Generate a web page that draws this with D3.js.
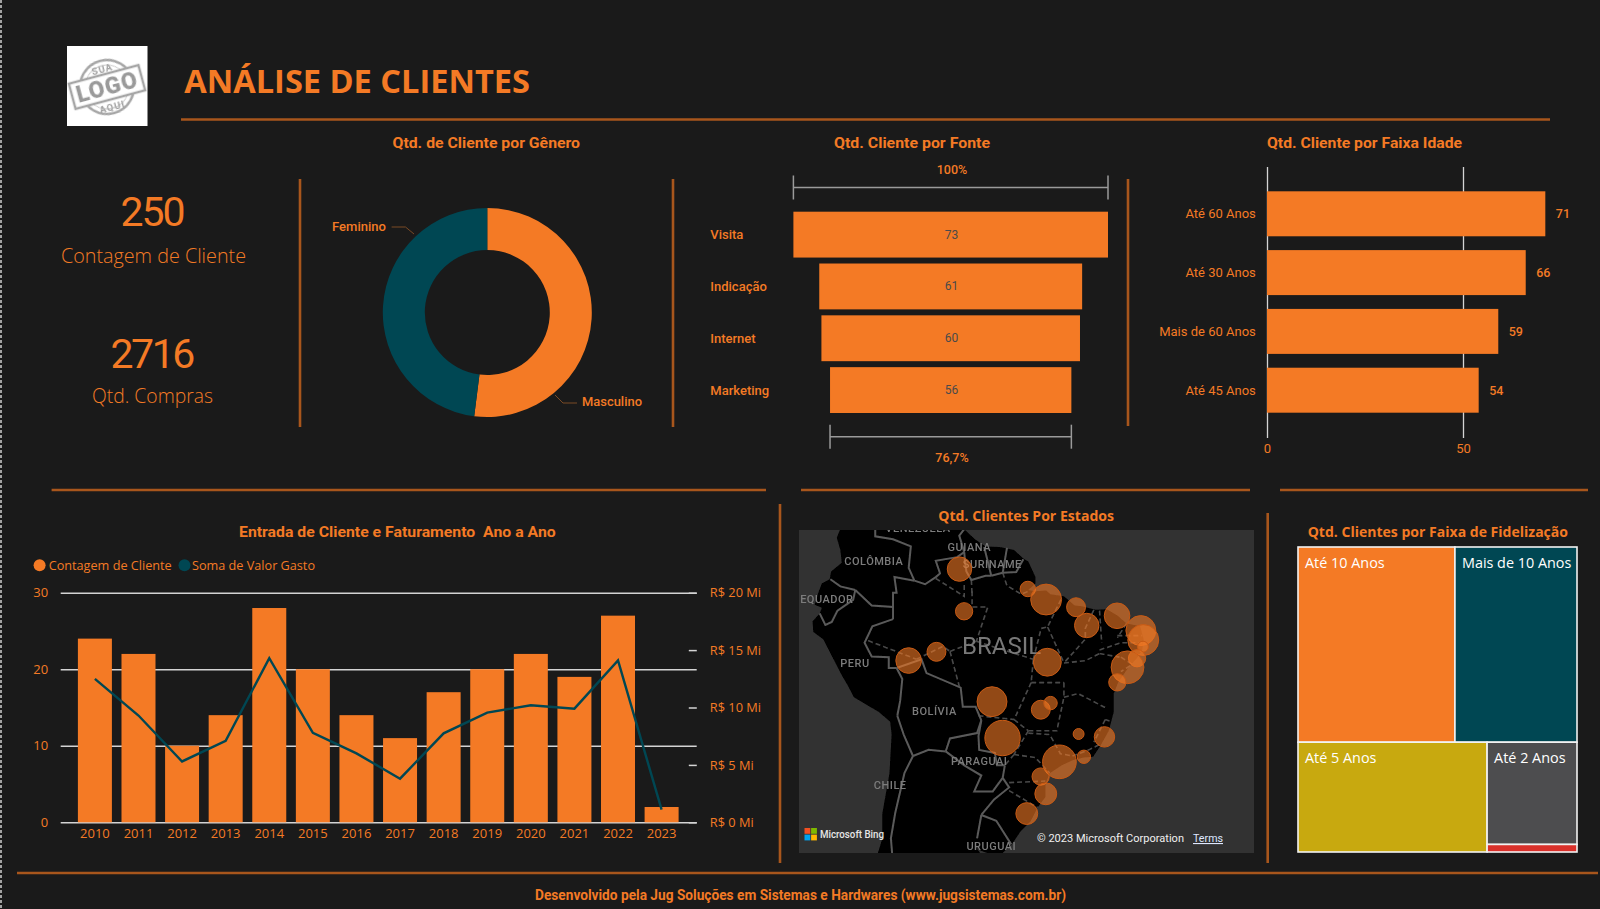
<!DOCTYPE html>
<html>
<head>
<meta charset="utf-8">
<script src="https://cdn.jsdelivr.net/npm/d3@7"></script>
<style>
  html, body { margin: 0; padding: 0; background: #1a1a1a; overflow: hidden; }
  svg { display: block; }
  .din { font-family: Roboto, sans-serif; }
  .seg { font-family: "Open Sans", sans-serif; }
</style>
</head>
<body>
<svg id="page" width="1600" height="909"></svg>
<script>
// ---- data ----
var genderNames = ["Masculino", "Feminino"];
var genderValues = [130, 120];

var sourceNames = ["Visita", "Indicação", "Internet", "Marketing"];
var sourceValues = [73, 61, 60, 56];

var ageNames = ["Até 60 Anos", "Até 30 Anos", "Mais de 60 Anos", "Até 45 Anos"];
var ageValues = [71, 66, 59, 54];

var years = ["2010", "2011", "2012", "2013", "2014", "2015", "2016", "2017", "2018", "2019", "2020", "2021", "2022", "2023"];
var customerCounts = [24, 22, 10, 14, 28, 20, 14, 11, 17, 20, 22, 19, 27, 2];
var revenueMi = [12.5, 9.3, 5.3, 7.1, 14.3, 7.8, 6.0, 3.8, 7.75, 9.55, 10.2, 9.9, 14.1, 1.1];
var leftTicks = [0, 10, 20, 30];
var rightTicks = [0, 5, 10, 15, 20];

var loyaltyNames = ["Até 10 Anos", "Mais de 10 Anos", "Até 5 Anos", "Até 2 Anos", "Até 1 Ano"];
var loyaltyValues = [90, 70, 61, 27, 2];
var loyaltyColors = ["#f47a25", "#004753", "#c8a90f", "#4d4d4f", "#d9302a"];

// state capitals: [lon, lat, customers]
var stateBubbles = [
  [-60.67, 2.82, 10], [-60.02, -3.1, 5], [-67.81, -9.97, 11], [-63.9, -8.76, 6],
  [-51.07, 0.03, 4], [-48.5, -1.45, 16], [-44.3, -2.53, 6], [-42.8, -5.09, 10],
  [-38.54, -3.73, 11], [-35.2, -5.8, 15], [-34.86, -7.12, 16], [-34.9, -8.05, 2],
  [-35.73, -9.65, 5], [-37.07, -10.9, 18], [-38.5, -12.97, 5], [-48.33, -10.2, 13],
  [-56.1, -15.6, 15], [-49.25, -16.68, 6], [-47.88, -15.79, 3], [-54.62, -20.45, 21],
  [-43.94, -19.92, 2], [-40.31, -20.3, 7], [-43.2, -22.9, 3], [-46.63, -23.55, 19],
  [-49.27, -25.43, 5], [-48.55, -27.6, 8], [-51.22, -30.03, 8]
];

var mapLabels = [
  ["VENEZUELA", -66.5, 8.5], ["GUIANA", -59.3, 5.97], ["SURINAME", -56.06, 3.54],
  ["COLÔMBIA", -72.7, 3.96], ["EQUADOR", -79.3, -1.37], ["PERU", -75.35, -10.35],
  ["BOLÍVIA", -64.2, -16.8], ["PARAGUAI", -57.9, -23.4], ["CHILE", -70.4, -26.5],
  ["URUGUAI", -56.2, -33.9]
];

var coastline = [
  [-77.9, 7.2], [-77.3, 8.7], [-77, 9.5], [-75.5, 10.6], [-74.2, 11.3], [-71.7, 12.4], [-71.3, 11], [-70, 12],
  [-68, 10.6], [-64, 10.5], [-62, 10.7], [-61, 9], [-60, 8.4], [-58.5, 7], [-57, 6], [-55, 5.9], [-53, 5.5],
  [-51.7, 4.3], [-51, 3.9], [-50, 1.7], [-50, 0.8], [-51, -0.1], [-50, -0.3], [-48.5, -0.2], [-47.9, -0.7],
  [-46, -1], [-44.5, -2.3], [-43.5, -2.4], [-41.5, -2.9], [-40, -2.8], [-38.5, -3.7], [-37.2, -4.8], [-35.3, -5.2],
  [-34.8, -7], [-35, -8.5], [-35.8, -9.7], [-37, -11], [-38.4, -13], [-39, -14.5], [-39, -17], [-39.7, -19.5],
  [-40.9, -21.5], [-41.9, -22.9], [-43.2, -23], [-44.7, -23.3], [-46.3, -24], [-48, -25], [-48.6, -26.3],
  [-48.6, -28], [-49.7, -29.3], [-50.7, -31], [-52.1, -32.2], [-53.4, -33.8], [-54.9, -34.9], [-56.2, -34.9],
  [-57.8, -34.4], [-58.4, -34], [-57.2, -35.3], [-56.7, -36.5], [-58, -38.3], [-62, -39], [-65, -41], [-65, -45],
  [-68, -50], [-68.5, -55], [-72, -54], [-75, -50], [-73.5, -40], [-73, -37], [-71.5, -33], [-71.5, -30],
  [-70.5, -25], [-70.2, -20], [-70.4, -18.3], [-72, -17], [-75.5, -15], [-76.3, -13.5], [-77.2, -12], [-78.5, -9.5],
  [-79.8, -7], [-81.2, -6], [-81.3, -4.5], [-80.3, -3.4], [-80, -2.6], [-81, -2.2], [-80.5, -0.5], [-80, 0.8],
  [-78.9, 1.4], [-78.7, 2.5], [-77.2, 3.7], [-77.4, 5.5]
];

var countryBorders = [
  [[-78.8, 1.4], [-77.4, 0.4], [-75.3, -0.1]],
  [[-75.3, -0.1], [-75.6, -1.5], [-77.8, -3], [-78.6, -4.6], [-79.5, -5], [-80.3, -3.4]],
  [[-75.3, -0.1], [-73, -2.3], [-70, -2.5], [-70, -4.2]],
  [[-71.5, 12], [-72.5, 10], [-72.5, 7.4], [-70, 7], [-67.5, 6], [-67.8, 3], [-67, 1.2]],
  [[-67, 1.2], [-69.8, 1.7], [-69.5, -0.5], [-70, -0.5], [-70, -2.5]],
  [[-67, 1.2], [-65.5, 0.7], [-64, 1.7], [-63.4, 2.2], [-64, 4], [-61, 4.5], [-60, 5.2]],
  [[-60, 5.2], [-60.7, 7.5], [-60, 8.4]],
  [[-60, 5.2], [-59.9, 4], [-59.7, 2.5], [-59, 1.3], [-57, 1.9], [-56.2, 1.9]],
  [[-56.2, 1.9], [-57.2, 5.9]],
  [[-56.2, 1.9], [-54.6, 2.3]],
  [[-54.6, 2.3], [-54, 5.8]],
  [[-54.6, 2.3], [-52.7, 2.4], [-51.7, 4.2]],
  [[-70, -4.2], [-72.9, -5.2], [-74, -7.5], [-73, -9.4], [-70.6, -9.5], [-70.6, -11], [-69.5, -11]],
  [[-69.5, -11], [-68.7, -12.5], [-69, -15.5], [-69.4, -17.5]],
  [[-69.5, -11], [-66, -9.8], [-65.3, -11.7], [-60.5, -13.7], [-60.2, -16.3], [-58.4, -16.3], [-57.6, -18.1]],
  [[-69.4, -17.5], [-68.5, -20], [-67.2, -22.8]],
  [[-67.2, -22.8], [-68.4, -25], [-69.7, -30], [-70.3, -33], [-70, -36], [-71.5, -40]],
  [[-67.2, -22.8], [-65, -22], [-62.6, -22.2]],
  [[-62.6, -22.2], [-62, -20.5], [-58.2, -19.8], [-57.6, -18.1]],
  [[-57.6, -18.1], [-58, -20.2], [-57.9, -22], [-55.7, -22.4], [-55.4, -24], [-54.3, -24]],
  [[-62.6, -22.2], [-60, -24], [-57.6, -25.3], [-58.6, -27.3], [-56, -27.3], [-54.6, -25.6], [-54.3, -24]],
  [[-54.6, -25.6], [-53.7, -26.8], [-55.8, -28.3], [-57.6, -30.2]],
  [[-57.6, -30.2], [-55.5, -30.9], [-53.4, -33.7]],
  [[-57.6, -30.2], [-58.2, -33]]
];

var stateBorders = [
  [[-58.9, -0.3], [-58.9, -2.5], [-56.7, -2.5], [-58.3, -7.3]],
  [[-64, 1.5], [-60, -1], [-60, 1]],
  [[-59, 1.3], [-58.9, -0.8]],
  [[-54.6, 2.3], [-54, 0.5], [-52, -0.7], [-51, -0.3]],
  [[-58.3, -7.3], [-50.3, -9.8]],
  [[-50.3, -9.8], [-49.2, -5.5], [-48.3, -5.3], [-46.3, -1.2]],
  [[-48.3, -5.3], [-47.5, -7], [-46, -10.3]],
  [[-41.8, -2.9], [-43, -5.5], [-43, -7], [-46, -10.3]],
  [[-50.6, -13], [-46, -13]],
  [[-50.3, -9.8], [-50.6, -13]],
  [[-50.6, -13], [-53, -18]],
  [[-73.5, -7.2], [-66.7, -9.8]],
  [[-66.7, -9.8], [-63, -8], [-62, -8.7]],
  [[-62, -8.7], [-60.7, -13.5]],
  [[-62, -8.7], [-58.3, -7.3]],
  [[-58, -17.5], [-53, -18]],
  [[-53, -18], [-51, -19.5]],
  [[-51, -19.5], [-53, -22.6]],
  [[-53, -22.6], [-54.3, -24]],
  [[-51, -19.8], [-48, -20], [-46.5, -22.5], [-44.8, -22.8]],
  [[-51, -19.5], [-47, -19.5], [-46, -15]],
  [[-46, -15], [-44, -14.5], [-40, -16.5]],
  [[-46, -13], [-46, -15]],
  [[-40.2, -18], [-41.8, -21]],
  [[-39.6, -18.2], [-40.2, -18]],
  [[-44.8, -22.8], [-42.5, -22], [-41, -21.3]],
  [[-53, -22.6], [-50, -23], [-48, -25]],
  [[-53.7, -26.2], [-48.6, -26]],
  [[-53.7, -27.2], [-49.7, -29.3]],
  [[-41, -3], [-40.7, -7.5]],
  [[-41, -8.5], [-38, -7.5], [-35, -7.5]],
  [[-41, -9], [-38.2, -9.5]],
  [[-37.2, -4.8], [-38.5, -6.8]],
  [[-38.5, -6.5], [-35, -6.5]],
  [[-46, -10.3], [-43, -10], [-41, -9]],
  [[-38, -9.5], [-36.4, -10.5], [-38, -11.5]]
];

// ---- shared styles ----
var orange = "#f47a25";
var teal = "#004753";
var ruleColor = "#a8561c";
var gridColor = "#d4d4d4";

var svg = d3.select("#page");
svg.append("rect").attr("width", 1600).attr("height", 909).attr("fill", "#1a1a1a");
svg.append("filter").attr("id", "soft").append("feGaussianBlur").attr("stdDeviation", 0.5);

// text helper, width is the measured width on the reference
function label(parent, str, x, y, cls, size, opts) {
  opts = opts || {};
  var t = parent.append("text")
    .attr("class", cls)
    .attr("x", x).attr("y", y)
    .attr("font-size", size)
    .attr("font-weight", opts.weight || 400)
    .attr("fill", opts.fill || orange)
    .attr("text-anchor", opts.anchor || "start")
    .text(str);
  if (opts.width) t.attr("textLength", opts.width).attr("lengthAdjust", opts.adjust || "spacingAndGlyphs");
  if (opts.spacing) t.attr("letter-spacing", opts.spacing);
  return t;
}

function rule(x1, y1, x2, y2) {
  svg.append("line").attr("x1", x1).attr("y1", y1).attr("x2", x2).attr("y2", y2)
    .attr("stroke", ruleColor).attr("stroke-width", 2.6);
}

// selection edge on the far left of the screenshot
svg.append("line").attr("x1", 1).attr("y1", 0).attr("x2", 1).attr("y2", 909)
  .attr("stroke", "#cfcfcf").attr("stroke-width", 1.5).attr("stroke-dasharray", "3 2");

// ---- header ----
var logo = svg.append("g");
logo.append("rect").attr("x", 67).attr("y", 46).attr("width", 80.5).attr("height", 80).attr("fill", "#fff");
var stamp = logo.append("g").attr("transform", "translate(107,87) rotate(-15)").attr("filter", "url(#soft)");
stamp.append("circle").attr("r", 27).attr("fill", "none").attr("stroke", "#a6a6a6").attr("stroke-width", 2.5);
stamp.append("circle").attr("r", 22).attr("fill", "none").attr("stroke", "#c4c4c4").attr("stroke-width", 1);
stamp.append("rect").attr("x", -36).attr("y", -13).attr("width", 72).attr("height", 26)
  .attr("fill", "#fff").attr("stroke", "#a6a6a6").attr("stroke-width", 2.5);
label(stamp, "LOGO", 0, 8, "din", 23, { weight: 900, fill: "#9a9a9a", anchor: "middle", spacing: 1 });
label(stamp, "SUA", 0, -15.5, "din", 9.5, { weight: 700, fill: "#a0a0a0", anchor: "middle", spacing: 1 });
label(stamp, "AQUI", 0, 23.5, "din", 9.5, { weight: 700, fill: "#a0a0a0", anchor: "middle", spacing: 1 });

label(svg, "ANÁLISE DE CLIENTES", 184.3, 93, "seg", 32, { weight: 700, width: 345.7 });
rule(181, 119.5, 1550, 119.5);

// ---- KPI cards ----
label(svg, "250", 120.5, 226, "din", 41, { width: 65, adjust: "spacing" });
label(svg, "Contagem de Cliente", 61, 263, "seg", 21, { weight: 300, width: 185 });
label(svg, "2716", 110.6, 368, "din", 41, { width: 84.6, adjust: "spacing" });
label(svg, "Qtd. Compras", 92, 403, "seg", 21, { weight: 300, width: 121 });

rule(300, 179, 300, 427);
rule(673, 179, 673, 427);
rule(1128, 179, 1128, 426);

// ---- donut ----
label(svg, "Qtd. de Cliente por Gênero", 392.5, 148, "din", 15, { weight: 700, width: 187.5 });
var donut = svg.append("g").attr("transform", "translate(487.3,312.5)");
var pie = d3.pie().sort(null);
var arc = d3.arc().innerRadius(62.5).outerRadius(104.5);
donut.selectAll("path").data(pie(genderValues)).enter().append("path")
  .attr("d", arc)
  .attr("fill", function (d, i) { return i === 0 ? orange : teal; });

var leaderLine = d3.line();
svg.append("path").attr("d", leaderLine([[391.6, 227], [405.5, 227], [414, 234]]))
  .attr("fill", "none").attr("stroke", "#7a4a25").attr("stroke-width", 1);
svg.append("path").attr("d", leaderLine([[555, 395], [563, 403], [577, 403]]))
  .attr("fill", "none").attr("stroke", "#7a4a25").attr("stroke-width", 1);
label(svg, genderNames[1], 332, 230.5, "din", 13, { weight: 500, width: 54 });
label(svg, genderNames[0], 582, 405.5, "din", 13, { weight: 500, width: 60 });

// ---- funnel ----
label(svg, "Qtd. Cliente por Fonte", 834, 148, "din", 15, { weight: 700, width: 156 });
var funnelCenter = 950.7;
var funnelW = d3.scaleLinear().domain([0, d3.max(sourceValues)]).range([0, 314.6]);
var funnelY = d3.scaleBand().domain(sourceNames).range([211.7, 413]).paddingInner(0.115);
var funnel = svg.append("g");
funnel.selectAll("rect").data(sourceValues).enter().append("rect")
  .attr("x", function (d) { return funnelCenter - funnelW(d) / 2; })
  .attr("y", function (d, i) { return funnelY(sourceNames[i]); })
  .attr("width", funnelW)
  .attr("height", funnelY.bandwidth())
  .attr("fill", orange);
sourceValues.forEach(function (d, i) {
  var cy = funnelY(sourceNames[i]) + funnelY.bandwidth() / 2;
  label(funnel, d, 951.5, cy + 4, "din", 12, { fill: "#4a4a4a", anchor: "middle" });
  label(funnel, sourceNames[i], 710.3, cy + 4.5, "din", 13, { weight: 500 });
});

function bracket(x1, x2, y) {
  var g = svg.append("g").attr("stroke", "#9a9a9a").attr("stroke-width", 1.5);
  g.append("line").attr("x1", x1).attr("x2", x2).attr("y1", y).attr("y2", y);
  g.append("line").attr("x1", x1).attr("x2", x1).attr("y1", y - 12).attr("y2", y + 12);
  g.append("line").attr("x1", x2).attr("x2", x2).attr("y1", y - 12).attr("y2", y + 12);
}
bracket(funnelCenter - funnelW(73) / 2, funnelCenter + funnelW(73) / 2, 187.5);
bracket(funnelCenter - funnelW(56) / 2, funnelCenter + funnelW(56) / 2, 436.7);
label(svg, "100%", 952, 173.5, "din", 12.5, { weight: 500, anchor: "middle" });
label(svg, d3.format(".1f")(56 / 73 * 100).replace(".", ",") + "%", 952, 461.5, "din", 12.5, { weight: 500, anchor: "middle" });

// ---- age bars ----
label(svg, "Qtd. Cliente por Faixa Idade", 1267, 148, "din", 15, { weight: 700, width: 195 });
var ageX = d3.scaleLinear().domain([0, 50]).range([1267, 1463]);
var ageY = d3.scaleBand().domain(ageNames).range([191.3, 412.7]).paddingInner(0.235);
var ageGrid = svg.append("g").attr("transform", "translate(0,438)")
  .call(d3.axisBottom(ageX).tickValues([0, 50]).tickSize(-271).tickPadding(6));
ageGrid.select(".domain").remove();
ageGrid.selectAll("line").attr("stroke", gridColor).attr("stroke-width", 1.3);
ageGrid.selectAll("text").attr("fill", orange).attr("font-size", 13).attr("font-family", "Roboto, sans-serif");

var ageBars = svg.append("g");
ageBars.selectAll("rect").data(ageValues).enter().append("rect")
  .attr("x", ageX(0))
  .attr("y", function (d, i) { return ageY(ageNames[i]); })
  .attr("width", function (d) { return ageX(d) - ageX(0); })
  .attr("height", ageY.bandwidth())
  .attr("fill", orange);
ageValues.forEach(function (d, i) {
  var cy = ageY(ageNames[i]) + ageY.bandwidth() / 2;
  label(ageBars, d, ageX(d) + 10.5, cy + 4.5, "din", 12.5, { weight: 500 });
  label(ageBars, ageNames[i], 1255.8, cy + 4.5, "din", 13, { anchor: "end" });
});

// ---- combo chart ----
rule(51.6, 490, 766, 490);
rule(780, 504, 780, 863);
label(svg, "Entrada de Cliente e Faturamento  Ano a Ano", 239, 537, "din", 15, { weight: 700, width: 316.7 }).attr("xml:space", "preserve");

var legend = svg.append("g");
legend.append("circle").attr("cx", 39.6).attr("cy", 565.3).attr("r", 6).attr("fill", orange);
label(legend, "Contagem de Cliente", 48.7, 570, "seg", 13, { width: 123 });
legend.append("circle").attr("cx", 184.5).attr("cy", 565.3).attr("r", 6).attr("fill", teal);
label(legend, "Soma de Valor Gasto", 192, 570, "seg", 13, { width: 123 });

var comboX = d3.scaleBand().domain(years).range([73.1, 683.4]).paddingInner(0.22).paddingOuter(0.11);
var comboY = d3.scaleLinear().domain([0, 30]).range([822.3, 592.7]);
var comboR = d3.scaleLinear().domain([0, 20]).range([822.3, 592.7]);

var leftAxis = svg.append("g").attr("transform", "translate(60.7,0)")
  .call(d3.axisLeft(comboY).tickValues(leftTicks).tickSize(-636).tickPadding(12.5));
leftAxis.select(".domain").remove();
leftAxis.selectAll("line").attr("stroke", gridColor).attr("stroke-width", 1.5);
leftAxis.selectAll("text").attr("fill", orange).attr("font-size", 13).attr("font-family", "'Open Sans', sans-serif");

var rightAxis = svg.append("g").attr("transform", "translate(696.8,0)")
  .call(d3.axisRight(comboR).tickValues(rightTicks).tickSize(0).tickPadding(13)
    .tickFormat(function (d) { return "R$ " + d + " Mi"; }));
rightAxis.select(".domain").remove();
rightAxis.selectAll("text").attr("fill", orange).attr("font-size", 12.8).attr("font-family", "'Open Sans', sans-serif");
rightAxis.selectAll(".tick").append("line").attr("x1", -8).attr("x2", 0)
  .attr("stroke", gridColor).attr("stroke-width", 1.5);

svg.append("g").selectAll("rect").data(customerCounts).enter().append("rect")
  .attr("x", function (d, i) { return comboX(years[i]); })
  .attr("y", comboY)
  .attr("width", comboX.bandwidth())
  .attr("height", function (d) { return comboY(0) - comboY(d); })
  .attr("fill", orange);

var revenueLine = d3.line()
  .x(function (d, i) { return comboX(years[i]) + comboX.bandwidth() / 2; })
  .y(comboR);
svg.append("path").attr("d", revenueLine(revenueMi))
  .attr("fill", "none").attr("stroke", teal).attr("stroke-width", 2.4);

var xAxis = svg.append("g").attr("transform", "translate(0,823)")
  .call(d3.axisBottom(comboX).tickSize(0).tickPadding(6));
xAxis.select(".domain").remove();
xAxis.selectAll("text").attr("fill", orange).attr("font-size", 13).attr("font-family", "'Open Sans', sans-serif");

// ---- map ----
rule(801, 490, 1250, 490);
label(svg, "Qtd. Clientes Por Estados", 938.3, 521, "seg", 14, { weight: 700, width: 175.7 });

var projection = d3.geoMercator().scale(408).translate([1391.5, 589.2]);
var geoLine = d3.line()
  .x(function (d) { return projection(d)[0]; })
  .y(function (d) { return projection(d)[1]; });

svg.append("clipPath").attr("id", "mapClip").append("rect")
  .attr("x", 799).attr("y", 530).attr("width", 455).attr("height", 323);
var map = svg.append("g").attr("clip-path", "url(#mapClip)");
var mapBase = map.append("g").attr("filter", "url(#soft)");
mapBase.append("rect").attr("x", 790).attr("y", 520).attr("width", 475).attr("height", 345).attr("fill", "#333333");
mapBase.append("path").attr("d", geoLine(coastline) + "Z").attr("fill", "#000");
mapBase.selectAll(".state").data(stateBorders).enter().append("path")
  .attr("d", geoLine)
  .attr("fill", "none").attr("stroke", "#4a4a4a").attr("stroke-width", 1.6).attr("stroke-dasharray", "5 3");
mapBase.selectAll(".country").data(countryBorders).enter().append("path")
  .attr("d", geoLine)
  .attr("fill", "none").attr("stroke", "#5a5a5a").attr("stroke-width", 2);
mapLabels.forEach(function (d) {
  var p = projection([d[1], d[2]]);
  label(mapBase, d[0], p[0], p[1] + 4, "din", 11, { weight: 500, fill: "#7c7c7c", anchor: "middle", spacing: 0.5 });
});
var brasilPos = projection([-54.76, -7.8]);
label(mapBase, "BRASIL", brasilPos[0], brasilPos[1] + 9, "din", 24, { fill: "#787878", anchor: "middle" });

var bubbleR = d3.scaleSqrt().domain([0, 21]).range([0, 17.7]);
map.selectAll(".bubble").data(stateBubbles).enter().append("circle")
  .attr("cx", function (d) { return projection(d)[0]; })
  .attr("cy", function (d) { return projection(d)[1]; })
  .attr("r", function (d) { return bubbleR(d[2]); })
  .attr("fill", orange).attr("fill-opacity", 0.6)
  .attr("stroke", "#c85a14").attr("stroke-width", 1);

// Bing mark and attribution
var bingColors = ["#f25022", "#7fba00", "#00a4ef", "#ffb900"];
map.selectAll(".bing").data(bingColors).enter().append("rect")
  .attr("x", function (d, i) { return 804.5 + (i % 2) * 6.6; })
  .attr("y", function (d, i) { return 828 + Math.floor(i / 2) * 6.6; })
  .attr("width", 5.8).attr("height", 5.8).attr("fill", function (d) { return d; });
label(map, "Microsoft Bing", 820, 838, "din", 10.5, { weight: 500, fill: "#e6e6e6", width: 64 });
label(map, "© 2023 Microsoft Corporation", 1037, 842, "din", 11, { fill: "#f0f0f0", width: 147 });
label(map, "Terms", 1193, 842, "din", 11, { fill: "#dfe8ff", width: 30 }).attr("text-decoration", "underline");

// ---- treemap ----
rule(1280, 490, 1588, 490);
rule(1267.7, 513, 1267.7, 863);
label(svg, "Qtd. Clientes por Faixa de Fidelização", 1307.7, 537, "seg", 14, { weight: 700, width: 260.3 });

var loyaltyRows = loyaltyNames.map(function (n, i) { return { name: n, value: loyaltyValues[i], color: loyaltyColors[i] }; });
var root = d3.hierarchy({ children: loyaltyRows }).sum(function (d) { return d.value || 0; });
d3.treemap().size([279, 305]).round(false)(root);
var cells = svg.append("g").attr("transform", "translate(1298,547)")
  .selectAll("g").data(root.leaves()).enter().append("g")
  .attr("transform", function (d) { return "translate(" + d.x0 + "," + d.y0 + ")"; });
cells.append("rect")
  .attr("width", function (d) { return d.x1 - d.x0; })
  .attr("height", function (d) { return d.y1 - d.y0; })
  .attr("fill", function (d) { return d.data.color; })
  .attr("stroke", "#f2f2f2").attr("stroke-width", 1.6);
cells.filter(function (d) { return d.y1 - d.y0 > 20; }).each(function (d) {
  label(d3.select(this), d.data.name, 7, 20.5, "seg", 14.4, { fill: "#fff" });
});

// ---- footer ----
rule(17, 873, 1598, 873);
label(svg, "Desenvolvido pela Jug Soluções em Sistemas e Hardwares (www.jugsistemas.com.br)", 535, 900, "din", 14, { weight: 700, width: 531 });
</script>
</body>
</html>
